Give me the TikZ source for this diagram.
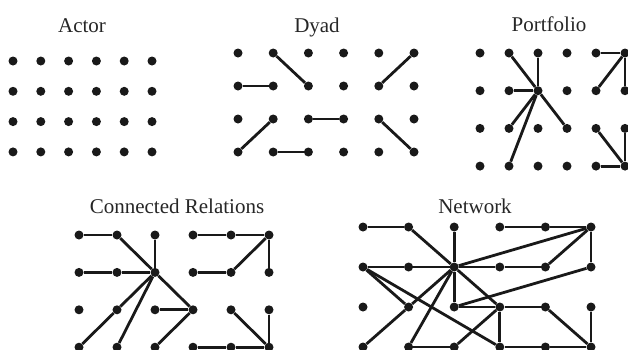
\documentclass[tikz,border=0pt]{standalone}
\usepackage{fontspec}
\setmainfont{Liberation Serif}

% grid of 6 x 4 dots: name, x0, y0, dx, dy
\newcommand{\dotgrid}[5]{%
  \foreach \c in {0,...,5}
    \foreach \r in {0,...,3}
      \node [vertex] (#1\c\r) at ({#2+\c*#4},{#3+\r*#5}) {};}

\begin{document}
\begin{tikzpicture}[x=1pt, y=-1pt,
  vertex/.style={circle, fill=black!90, inner sep=0pt, minimum size=9pt},
  link/.style={line width=2.8pt, draw=black!90},
  title/.style={font=\fontsize{21}{24}\selectfont, text=black!85, inner sep=0pt, anchor=base}]

\def\width{628}
\def\height{349}

\path [use as bounding box] (0,0) rectangle (\width,\height);
\clip (0,0) rectangle (\width,\height);

% TITLES
\node [title] (actortitle) at (82,32) {Actor};
\node [title] (dyadtitle) at (317,32) {Dyad};
\node [title] (portfoliotitle) at (549,31) {Portfolio};
\node [title] (connectedtitle) at (177,213) {Connected Relations};
\node [title] (networktitle) at (475,213) {Network};

% DOTS
\dotgrid{a}{13}{61}{27.8}{30.3}
\dotgrid{d}{238}{53}{35.2}{33}
\dotgrid{p}{480}{53}{29}{37.7}
\dotgrid{c}{79}{235}{38}{37.4}
\dotgrid{n}{363}{227}{45.6}{40}

% DYAD
\foreach \s/\t in {10/21, 01/11, 50/41, 12/03, 22/32, 13/23, 42/53}
  \draw [link] (d\s) -- (d\t);

% PORTFOLIO
\foreach \s/\t in {10/21, 20/21, 11/21, 21/12, 21/13, 21/32,
                   40/50, 50/41, 50/51, 42/53, 43/53, 52/53}
  \draw [link] (p\s) -- (p\t);

% CONNECTED RELATIONS
\foreach \s/\t in {00/10, 10/21, 20/21, 01/11, 11/21, 21/12, 12/03, 21/13,
                   21/32, 22/32, 32/23, 30/40, 40/50, 50/41, 31/41, 50/51,
                   42/53, 52/53, 33/43, 43/53}
  \draw [link] (c\s) -- (c\t);

% NETWORK
\foreach \s/\t in {00/10, 10/21, 20/21, 01/11, 11/21, 21/31, 31/41, 30/40,
                   40/50, 21/50, 41/50, 50/51, 51/22, 21/22, 22/32, 32/42,
                   21/32, 32/33, 32/23, 01/12, 01/33, 21/12, 12/03, 21/13,
                   13/23, 33/43, 43/53, 42/53, 52/53}
  \draw [link] (n\s) -- (n\t);

\end{tikzpicture}
\end{document}
